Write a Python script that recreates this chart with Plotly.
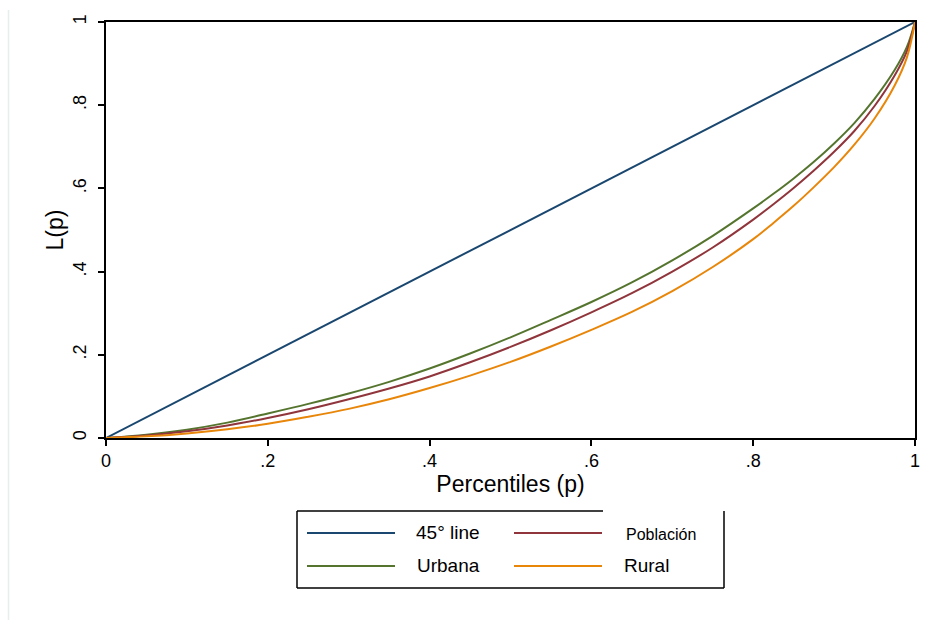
import plotly.graph_objects as go

# Percentiles (p)
p = [0, 0.05, 0.10, 0.15, 0.20, 0.25, 0.30, 0.35, 0.40, 0.45, 0.50, 0.55,
     0.60, 0.65, 0.70, 0.75, 0.80, 0.825, 0.85, 0.875, 0.90, 0.925, 0.95, 0.975, 0.99, 1.0]

# Lorenz curves L(p)
urbana = [0, 0.008, 0.020, 0.037, 0.059, 0.082, 0.107, 0.135, 0.167, 0.203, 0.242, 0.284,
          0.327, 0.374, 0.427, 0.486, 0.552, 0.587, 0.624, 0.664, 0.708, 0.757, 0.815,
          0.885, 0.940, 1.0]
poblacion = [0, 0.006, 0.016, 0.030, 0.048, 0.069, 0.093, 0.119, 0.148, 0.182, 0.219, 0.259,
             0.302, 0.348, 0.400, 0.458, 0.525, 0.562, 0.601, 0.643, 0.688, 0.738, 0.798,
             0.872, 0.930, 1.0]
rural = [0, 0.004, 0.011, 0.021, 0.034, 0.051, 0.070, 0.093, 0.120, 0.150, 0.183, 0.220,
         0.260, 0.303, 0.353, 0.411, 0.478, 0.517, 0.558, 0.603, 0.651, 0.705, 0.768,
         0.848, 0.915, 1.0]

line45_x = [0, 1]
line45_y = [0, 1]

tick_vals = [0, 0.2, 0.4, 0.6, 0.8, 1]
tick_text = ["0", ".2", ".4", ".6", ".8", "1"]

names = ["45° line", "Población", "Urbana", "Rural"]
colors = ["#1a476f", "#90353b", "#55752f", "#e8860a"]

FONT = "Liberation Sans, Arial, sans-serif"

fig = go.Figure()
fig.add_trace(go.Scatter(x=line45_x, y=line45_y, mode="lines", name=names[0],
                         line=dict(color=colors[0], width=2)))
fig.add_trace(go.Scatter(x=p, y=urbana, mode="lines", name=names[2],
                         line=dict(color=colors[2], width=2, shape="spline", smoothing=1.0)))
fig.add_trace(go.Scatter(x=p, y=poblacion, mode="lines", name=names[1],
                         line=dict(color=colors[1], width=2, shape="spline", smoothing=1.0)))
fig.add_trace(go.Scatter(x=p, y=rural, mode="lines", name=names[3],
                         line=dict(color=colors[3], width=2, shape="spline", smoothing=1.0)))

L, R, T, B = 106, 20, 22, 182
W, H = 935, 620
PW = W - L - R
PH = H - T - B


def px(x):
    return (x - L) / PW


def py(y):
    return (H - B - y) / PH


shapes = []
annotations = []

# faint vertical line at far left
shapes.append(dict(type="line", xref="paper", yref="paper", x0=px(8.5), x1=px(8.5),
                   y0=py(10), y1=py(620), line=dict(color="#e6eeee", width=1.5)))

# legend box
bx0, bx1, by0, by1 = 297, 724, 511, 588
shapes.append(dict(type="line", xref="paper", yref="paper", x0=px(bx0), x1=px(bx0),
                   y0=py(by0), y1=py(by1), line=dict(color="black", width=1.5)))
shapes.append(dict(type="line", xref="paper", yref="paper", x0=px(bx0), x1=px(bx1),
                   y0=py(by1), y1=py(by1), line=dict(color="black", width=1.5)))
shapes.append(dict(type="line", xref="paper", yref="paper", x0=px(bx1), x1=px(bx1),
                   y0=py(by0), y1=py(by1), line=dict(color="black", width=1.5)))
shapes.append(dict(type="line", xref="paper", yref="paper", x0=px(bx0), x1=px(603),
                   y0=py(by0), y1=py(by0), line=dict(color="black", width=1.5)))

legend_items = [
    (names[0], colors[0], 307, 395, 533, 414, 19, -1),
    (names[1], colors[1], 514, 602, 533, 624, 16, 1),
    (names[2], colors[2], 307, 395, 566, 415, 19, -1),
    (names[3], colors[3], 514, 602, 566, 622, 19, -1),
]
for name, col, lx0, lx1, ly, tx, fs, dy in legend_items:
    shapes.append(dict(type="line", xref="paper", yref="paper", x0=px(lx0), x1=px(lx1),
                       y0=py(ly), y1=py(ly), line=dict(color=col, width=2)))
    annotations.append(dict(xref="paper", yref="paper", x=px(tx), y=py(ly + dy),
                            text=name, showarrow=False, xanchor="left", yanchor="middle",
                            font=dict(family=FONT, size=fs, color="black")))

fig.update_layout(
    width=W, height=H,
    margin=dict(l=L, r=R, t=T, b=B),
    paper_bgcolor="white", plot_bgcolor="white",
    showlegend=False,
    font=dict(family=FONT, size=17, color="black"),
    shapes=shapes,
    annotations=annotations,
    xaxis=dict(range=[0, 1], tickvals=tick_vals, ticktext=tick_text,
               ticks="outside", ticklen=6, tickwidth=1.5, tickcolor="black",
               showline=True, linecolor="black", linewidth=1.5, mirror=True,
               showgrid=False, zeroline=False,
               title=dict(text="Percentiles (p)", font=dict(size=23), standoff=2),
               tickfont=dict(size=18)),
    yaxis=dict(range=[0, 1], tickvals=tick_vals, ticktext=tick_text,
               ticks="outside", ticklen=6, tickwidth=1.5, tickcolor="black",
               tickangle=-90, ticklabelstandoff=5,
               showline=True, linecolor="black", linewidth=1.5, mirror=True,
               showgrid=False, zeroline=False,
               title=dict(text="L(p)", font=dict(size=23), standoff=0),
               tickfont=dict(size=18)),
)

fig.write_html("out.html")
